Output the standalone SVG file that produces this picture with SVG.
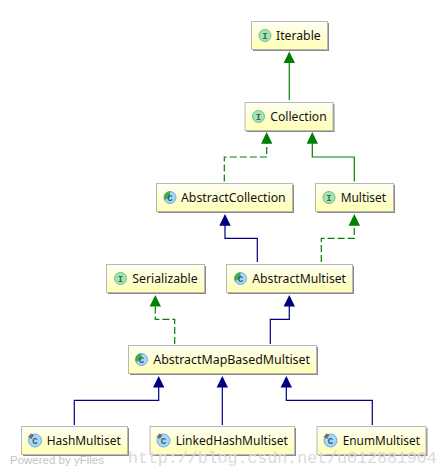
<svg xmlns="http://www.w3.org/2000/svg" width="448" height="476" viewBox="0 0 448 476">
<style>
.box{fill:url(#bg);stroke:#b8b8b8;stroke-width:1}
.sh{fill:#8a8a8a}
text{font-family:"Noto Sans","Liberation Sans",sans-serif;font-size:12.2px;fill:#111}
.l{fill:none;stroke-width:1.2}
.g{stroke:#008000}.b{stroke:#000080}.d{stroke-dasharray:7 3}
.ag{fill:#008000}.ab{fill:#000080}
.ii{fill:#a5e2b4;stroke:#6fbf85;stroke-width:1}
.ic{fill:#a9d6f3;stroke:#6aaedc;stroke-width:1}
.lt{font-family:"Liberation Mono",monospace;font-size:9px;font-weight:bold;fill:#3c6a48;text-anchor:middle}
.lc{fill:#2a5a80}
.wedge{fill:#3fae3f}
.pin{fill:#707070}
.w1{font-family:"Liberation Sans",sans-serif;font-size:11.5px;fill:#c4c4c4}
.w2{font-family:"Liberation Mono",monospace;font-size:16.6px;fill:#dadada}
</style>
<defs>
<linearGradient id="bg" x1="0" y1="0" x2="0" y2="1"><stop offset="0" stop-color="#fffff4"/><stop offset="1" stop-color="#ffffb4"/></linearGradient>
</defs>
<g id="connectors">
<path class="l g" d="M289.3 62V100"/>
<path class="ag" d="M289.3 51.500L295 63H283.600Z"/>
<path class="l g d" d="M224.300 181.500V157H266.700V143"/>
<path class="ag" d="M266.700 132L272.400 143.700H261Z"/>
<path class="l g" d="M354.300 181.500V157H312.300V143"/>
<path class="ag" d="M312.300 132L318 143.700H306.600Z"/>
<path class="l b" d="M257.300 262V238.300H225V225"/>
<path class="ab" d="M225 214L230.700 225.700H219.300Z"/>
<path class="l g d" d="M321.300 262V238.300H354.300V225"/>
<path class="ag" d="M354.300 214L360 225.700H348.600Z"/>
<path class="l g d" d="M174.700 344V319.300H155.300V305"/>
<path class="ag" d="M155.300 295L161 306.500H149.600Z"/>
<path class="l b" d="M270.300 344V319.300H289.300V305"/>
<path class="ab" d="M289.300 295L295 306.500H283.600Z"/>
<path class="l b" d="M74.300 425V400.300H158.700V387"/>
<path class="ab" d="M158.700 376L164.400 387.500H153Z"/>
<path class="l b" d="M222.300 425V387"/>
<path class="ab" d="M222.300 376L228 387.500H216.600Z"/>
<path class="l b" d="M372.300 425V400.300H286.300V387"/>
<path class="ab" d="M286.300 376L292 387.500H280.600Z"/>
</g>
<g id="iterable">
<rect class="sh" x="253" y="23" width="76" height="28"/><rect class="box" x="251.500" y="21.500" width="76" height="28"/>
<circle class="ii" cx="265" cy="35.500" r="6"/><text class="lt" x="265" y="38.500">I</text>
<text x="276" y="40" textLength="44.700" lengthAdjust="spacingAndGlyphs">Iterable</text>
</g>
<g id="collection">
<rect class="sh" x="246.500" y="104" width="88" height="28"/><rect class="box" x="245" y="102.500" width="88" height="28"/>
<circle class="ii" cx="258.500" cy="116.500" r="6"/><text class="lt" x="258.500" y="119.500">I</text>
<text x="270.300" y="121" textLength="56.400" lengthAdjust="spacingAndGlyphs">Collection</text>
</g>
<g id="abstractCollection">
<rect class="sh" x="158" y="185" width="136" height="28"/><rect class="box" x="156.500" y="183.500" width="136" height="28"/>
<circle class="ic" cx="170" cy="197.500" r="6"/><path class="wedge" d="M170 197.500V191.500A6 6 0 0 0 164.500 200Z"/><text class="lt lc" x="170" y="200.500">C</text>
<text x="181" y="202" textLength="104.700" lengthAdjust="spacingAndGlyphs">AbstractCollection</text>
</g>
<g id="multiset">
<rect class="sh" x="317" y="185" width="78" height="28"/><rect class="box" x="315.500" y="183.500" width="78" height="28"/>
<circle class="ii" cx="329" cy="197.500" r="6"/><text class="lt" x="329" y="200.500">I</text>
<text x="340.700" y="202" textLength="45.300" lengthAdjust="spacingAndGlyphs">Multiset</text>
</g>
<g id="serializable">
<rect class="sh" x="108" y="266" width="98" height="28"/><rect class="box" x="106.500" y="264.500" width="98" height="28"/>
<circle class="ii" cx="120.500" cy="278.500" r="6"/><text class="lt" x="120.500" y="281.500">I</text>
<text x="132.300" y="283" textLength="65.400" lengthAdjust="spacingAndGlyphs">Serializable</text>
</g>
<g id="abstractMultiset">
<rect class="sh" x="228" y="266" width="126" height="28"/><rect class="box" x="226.500" y="264.500" width="126" height="28"/>
<circle class="ic" cx="240.500" cy="278.500" r="6"/><path class="wedge" d="M240.500 278.500V272.500A6 6 0 0 0 235 281Z"/><text class="lt lc" x="240.500" y="281.500">C</text>
<text x="252.300" y="283" textLength="93.700" lengthAdjust="spacingAndGlyphs">AbstractMultiset</text>
</g>
<g id="abstractMapBasedMultiset">
<rect class="sh" x="130" y="347" width="188" height="28"/><rect class="box" x="128.500" y="345.500" width="188" height="28"/>
<circle class="ic" cx="141.500" cy="359.500" r="6"/><path class="wedge" d="M141.500 359.500V353.500A6 6 0 0 0 136 362Z"/><text class="lt lc" x="141.500" y="362.500">C</text>
<text x="153.300" y="364" textLength="156.700" lengthAdjust="spacingAndGlyphs">AbstractMapBasedMultiset</text>
</g>
<g id="hashMultiset">
<rect class="sh" x="23" y="428" width="106" height="28"/><rect class="box" x="21.500" y="426.500" width="106" height="28"/>
<circle class="ic" cx="35" cy="440.500" r="6.500"/><path class="pin" d="M28 437L31 433.500L34 435L31.500 439Z"/><text class="lt lc" x="35" y="443.500">C</text>
<text x="46.700" y="445" textLength="74" lengthAdjust="spacingAndGlyphs">HashMultiset</text>
</g>
<g id="linkedHashMultiset">
<rect class="sh" x="151.500" y="428" width="144.500" height="28"/><rect class="box" x="150" y="426.500" width="144.500" height="28"/>
<circle class="ic" cx="163.500" cy="440.500" r="6.500"/><path class="pin" d="M156.500 437L159.500 433.500L162.500 435L160 439Z"/><text class="lt lc" x="163.500" y="443.500">C</text>
<text x="175.700" y="445" textLength="112.300" lengthAdjust="spacingAndGlyphs">LinkedHashMultiset</text>
</g>
<g id="enumMultiset">
<rect class="sh" x="318.500" y="428" width="109" height="28"/><rect class="box" x="317" y="426.500" width="109" height="28"/>
<circle class="ic" cx="330.500" cy="440.500" r="6.500"/><path class="pin" d="M323.500 437L326.500 433.500L329.500 435L327 439Z"/><text class="lt lc" x="330.500" y="443.500">C</text>
<text x="342.700" y="445" textLength="77.300" lengthAdjust="spacingAndGlyphs">EnumMultiset</text>
</g>
<text class="w1" x="10" y="464">Powered by yFiles</text>
<text class="w2" x="128" y="463">http://blog.csdn.net/u012881904</text>
</svg>
